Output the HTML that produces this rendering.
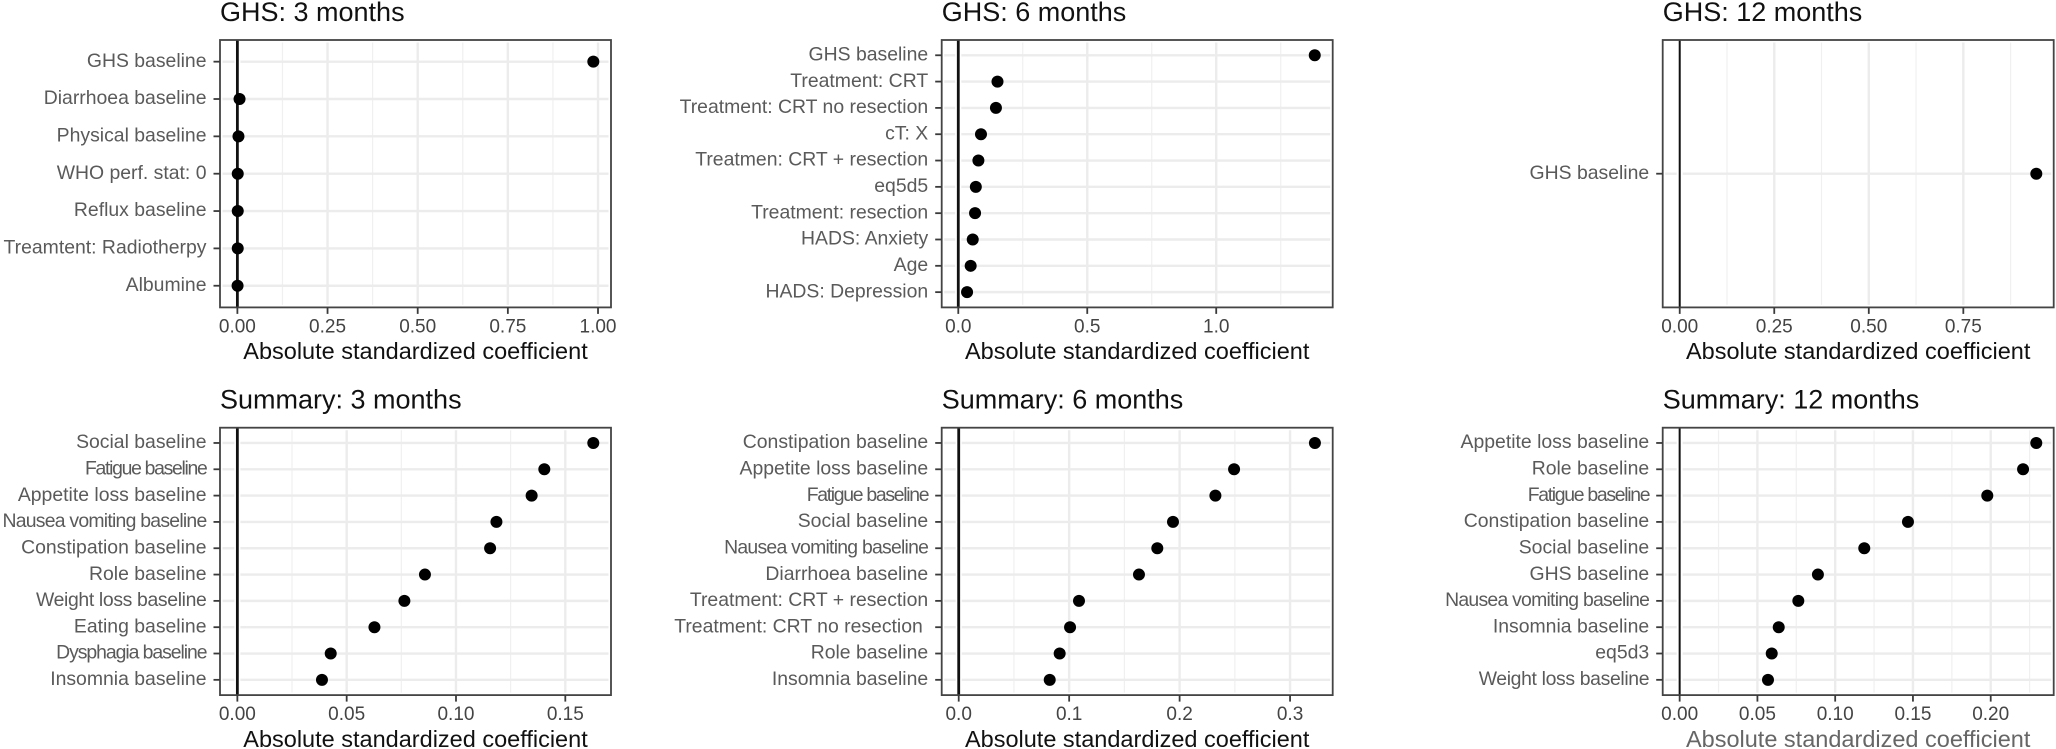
<!DOCTYPE html>
<html lang="en">
<head>
<meta charset="utf-8">
<title>Absolute standardized coefficients by outcome and time point</title>
<style>
html,body{margin:0;padding:0;background:#fff;}
svg{display:block;font-family:"Liberation Sans",Arial,sans-serif;}
</style>
</head>
<body>
<svg id="chart" xmlns="http://www.w3.org/2000/svg" width="2056" height="749" viewBox="0 0 2056 749"></svg>
<script>
const ghs3Labels = ["GHS baseline","Diarrhoea baseline","Physical baseline","WHO perf. stat: 0","Reflux baseline","Treamtent: Radiotherpy","Albumine"];
const ghs3Values = [0.987,0.006,0.003,0.001,0.001,0.001,0.0005];
const ghs3Ticks = [0,0.25,0.5,0.75,1];
const ghs3TickLabels = ["0.00","0.25","0.50","0.75","1.00"];
const ghs3Minor = [0.125,0.375,0.625,0.875];
const ghs3Domain = [-0.0482,1.036];

const ghs6Labels = ["GHS baseline","Treatment: CRT","Treatment: CRT no resection","cT: X","Treatmen: CRT + resection","eq5d5","Treatment: resection","HADS: Anxiety","Age","HADS: Depression"];
const ghs6Values = [1.382,0.152,0.146,0.088,0.078,0.068,0.065,0.056,0.048,0.034];
const ghs6Ticks = [0,0.5,1];
const ghs6TickLabels = ["0.0","0.5","1.0"];
const ghs6Minor = [0.25,0.75,1.25];
const ghs6Domain = [-0.0643,1.4516];

const ghs12Labels = ["GHS baseline"];
const ghs12Values = [0.943];
const ghs12Ticks = [0,0.25,0.5,0.75];
const ghs12TickLabels = ["0.00","0.25","0.50","0.75"];
const ghs12Minor = [0.125,0.375,0.625,0.875];
const ghs12Domain = [-0.045,0.989];

const sum3Labels = ["Social baseline","Fatigue baseline","Appetite loss baseline","Nausea vomiting baseline","Constipation baseline","Role baseline","Weight loss baseline","Eating baseline","Dysphagia baseline","Insomnia baseline"];
const sum3Values = [0.1628,0.1404,0.1346,0.1185,0.1156,0.0858,0.0764,0.0627,0.0427,0.0387];
const sum3Ticks = [0,0.05,0.1,0.15];
const sum3TickLabels = ["0.00","0.05","0.10","0.15"];
const sum3Minor = [0.025,0.075,0.125];
const sum3Domain = [-0.00794,0.1709];

const sum6Labels = ["Constipation baseline","Appetite loss baseline","Fatigue baseline","Social baseline","Nausea vomiting baseline","Diarrhoea baseline","Treatment: CRT + resection","Treatment: CRT no resection\u00a0","Role baseline","Insomnia baseline"];
const sum6Values = [0.3225,0.2493,0.2324,0.194,0.1798,0.1632,0.1089,0.1008,0.0914,0.0824];
const sum6Ticks = [0,0.1,0.2,0.3];
const sum6TickLabels = ["0.0","0.1","0.2","0.3"];
const sum6Minor = [0.05,0.15,0.25];
const sum6Domain = [-0.0154,0.3386];

const sum12Labels = ["Appetite loss baseline","Role baseline","Fatigue baseline","Constipation baseline","Social baseline","GHS baseline","Nausea vomiting baseline","Insomnia baseline","eq5d3","Weight loss baseline"];
const sum12Values = [0.2293,0.2208,0.1978,0.1468,0.1187,0.0889,0.0763,0.0637,0.0592,0.0568];
const sum12Ticks = [0,0.05,0.1,0.15,0.2];
const sum12TickLabels = ["0.00","0.05","0.10","0.15","0.20"];
const sum12Minor = [0.025,0.075,0.125,0.175,0.225];
const sum12Domain = [-0.0109,0.2405];

const labelTracking = {
  "Fatigue baseline": -1.3,
  "Nausea vomiting baseline": -0.75,
  "Dysphagia baseline": -1.05,
  "Weight loss baseline": -0.35
};

const NS = "http://www.w3.org/2000/svg";
const svg = document.getElementById("chart");

function make(parent, tag, attrs, text) {
  const el = document.createElementNS(NS, tag);
  for (const k in attrs) el.setAttribute(k, attrs[k]);
  if (text !== undefined) el.textContent = text;
  parent.appendChild(el);
  return el;
}

function slug(s) {
  return s.toLowerCase().replace(/[^a-z0-9]+/g, "-").replace(/^-|-$/g, "");
}

function drawPanel(p) {
  const g = make(svg, "g", {});
  
  

  const L = p.left, R = p.left + 391, T = p.top, B = p.top + 267.4;
  const xScale = v => L + (v - p.domain[0]) / (p.domain[1] - p.domain[0]) * (R - L);
  const n = p.labels.length;
  const expand = 0.58;
  const step = (B - T) / (n - 1 + 2 * expand);
  const yScale = i => T + (expand + i) * step;
  const inset = 2.5;

  const title = make(g, "text", {x: L, y: T - 19, "font-size": 27, fill: "#111"}, p.title);
  
  

  const bg = make(g, "rect", {x: L, y: T, width: R - L, height: B - T, fill: "#fff"});
  
  

  p.minor.forEach(v => {
    const x = xScale(v);
    const el = make(g, "line", {x1: x, x2: x, y1: T + inset, y2: B - inset, stroke: "#f0f0f0", "stroke-width": 1.2});
    
    
  });
  p.ticks.forEach(v => {
    const x = xScale(v);
    const el = make(g, "line", {x1: x, x2: x, y1: T + inset, y2: B - inset, stroke: "#ececec", "stroke-width": 2.4});
    
    
  });
  p.labels.forEach((lab, i) => {
    const y = yScale(i);
    const el = make(g, "line", {x1: L + inset, x2: R - inset, y1: y, y2: y, stroke: "#ececec", "stroke-width": 2.4});
    
    
  });

  const zx = xScale(0);
  const halo = make(g, "line", {x1: zx, x2: zx, y1: T, y2: B, stroke: "#fff", "stroke-width": 6});
  
  
  const zero = make(g, "line", {x1: zx, x2: zx, y1: T, y2: B, stroke: "#111", "stroke-width": p.zeroWidth});
  
  

  p.values.forEach((v, i) => {
    const dot = make(g, "circle", {cx: xScale(v), cy: yScale(i), r: 6, fill: "#000"});
    
    
  });

  const border = make(g, "rect", {x: L, y: T, width: R - L, height: B - T, fill: "none", stroke: "#444", "stroke-width": 1.8});
  
  

  p.labels.forEach((lab, i) => {
    const y = yScale(i);
    const tick = make(g, "line", {x1: L - 6.5, x2: L, y1: y, y2: y, stroke: "#3a3a3a", "stroke-width": 1.8});
    
    
    const t = make(g, "text", {x: L - 13.5, y: y + 5.2, "font-size": 19.4, "text-anchor": "end", fill: "#5a5a5a", "letter-spacing": labelTracking[lab] || 0}, lab);
    
    
  });

  p.ticks.forEach((v, i) => {
    const x = xScale(v);
    const tick = make(g, "line", {x1: x, x2: x, y1: B, y2: B + 6.5, stroke: "#3a3a3a", "stroke-width": 1.8});
    
    
    const t = make(g, "text", {x: x, y: B + 25, "font-size": 19, "text-anchor": "middle", fill: "#444"}, p.tickLabels[i]);
    
    
  });

  const axisTitle = make(g, "text", {x: (L + R) / 2, y: B + 51.8, "font-size": 23.5, "text-anchor": "middle", fill: p.axisColor}, "Absolute standardized coefficient");
  
  
}

const COL1 = 220, COL2 = 941.7, COL3 = 1662.7, ROW1 = 40, ROW2 = 427.7;

drawPanel({title:"GHS: 3 months", left:COL1, top:ROW1, labels:ghs3Labels, values:ghs3Values, ticks:ghs3Ticks, tickLabels:ghs3TickLabels, minor:ghs3Minor, domain:ghs3Domain, zeroWidth:2.8, axisColor:"#111"});
drawPanel({title:"GHS: 6 months", left:COL2, top:ROW1, labels:ghs6Labels, values:ghs6Values, ticks:ghs6Ticks, tickLabels:ghs6TickLabels, minor:ghs6Minor, domain:ghs6Domain, zeroWidth:2.8, axisColor:"#111"});
drawPanel({title:"GHS: 12 months", left:COL3, top:ROW1, labels:ghs12Labels, values:ghs12Values, ticks:ghs12Ticks, tickLabels:ghs12TickLabels, minor:ghs12Minor, domain:ghs12Domain, zeroWidth:2, axisColor:"#111"});
drawPanel({title:"Summary: 3 months", left:COL1, top:ROW2, labels:sum3Labels, values:sum3Values, ticks:sum3Ticks, tickLabels:sum3TickLabels, minor:sum3Minor, domain:sum3Domain, zeroWidth:2.8, axisColor:"#111"});
drawPanel({title:"Summary: 6 months", left:COL2, top:ROW2, labels:sum6Labels, values:sum6Values, ticks:sum6Ticks, tickLabels:sum6TickLabels, minor:sum6Minor, domain:sum6Domain, zeroWidth:2.8, axisColor:"#111"});
drawPanel({title:"Summary: 12 months", left:COL3, top:ROW2, labels:sum12Labels, values:sum12Values, ticks:sum12Ticks, tickLabels:sum12TickLabels, minor:sum12Minor, domain:sum12Domain, zeroWidth:2, axisColor:"#666"});
</script>
</body>
</html>
